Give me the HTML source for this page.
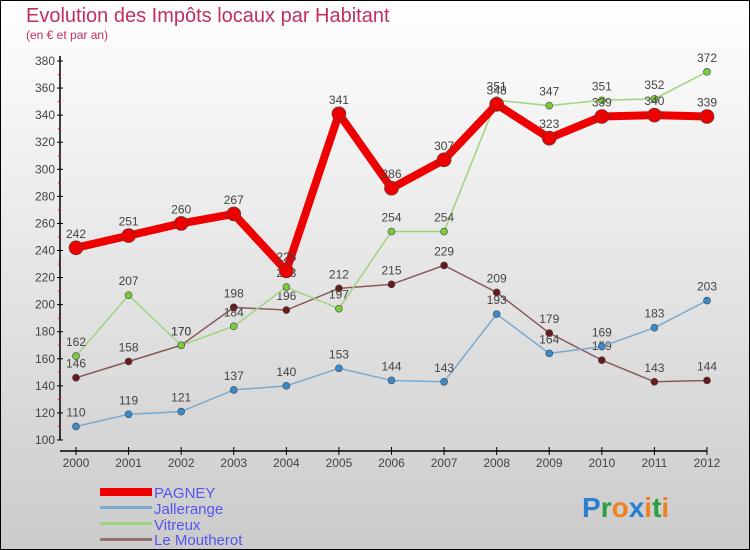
<!DOCTYPE html>
<html><head><meta charset="utf-8"><style>
body{margin:0}
#c{width:750px;height:550px;position:relative;overflow:hidden;font-family:"Liberation Sans",sans-serif}
</style></head><body>
<div id="c">
<svg id="s" width="750" height="550" xmlns="http://www.w3.org/2000/svg">
<defs><linearGradient id="bg" x1="0" y1="0" x2="0" y2="1"><stop offset="0" stop-color="#ffffff"/><stop offset="1" stop-color="#cbcbcb"/></linearGradient></defs>
<rect x="0.5" y="0.5" width="749" height="549" fill="url(#bg)" stroke="#000"/>
<text x="26" y="22" font-size="20" fill="#c0305a">Evolution des Impôts locaux par Habitant</text>
<text x="26" y="39" font-size="12" fill="#c0305a">(en € et par an)</text>
<g id="axes"></g><g id="series"></g>
<g>
<rect x="100" y="488" width="52" height="8" fill="#e00"/>
<text x="154" y="498" font-size="15" fill="#5555ee">PAGNEY</text>
<rect x="100" y="506" width="52" height="3" fill="#7aaad0"/>
<text x="154" y="514" font-size="15" fill="#5555ee">Jallerange</text>
<rect x="100" y="522" width="52" height="3" fill="#9fd47f"/>
<text x="154" y="530" font-size="15" fill="#5555ee">Vitreux</text>
<rect x="100" y="538" width="52" height="3" fill="#957070"/>
<text x="154" y="545" font-size="15" fill="#5555ee">Le Moutherot</text>
</g>
<g font-size="28" font-weight="bold">
<text x="582" y="517"><tspan fill="#2a7fd0">P</tspan><tspan fill="#2aa040">r</tspan><tspan fill="#f08020">o</tspan><tspan fill="#2a7fd0">x</tspan><tspan fill="#f08020">i</tspan><tspan fill="#2aa040">t</tspan><tspan fill="#f08020">i</tspan></text>
</g>
</svg>
</div>
<script>
const years=["2000","2001","2002","2003","2004","2005","2006","2007","2008","2009","2010","2011","2012"];
const yTicks=[100,120,140,160,180,200,220,240,260,280,300,320,340,360,380];
const pagney=[242,251,260,267,225,341,286,307,348,323,339,340,339];
const jallerange=[110,119,121,137,140,153,144,143,193,164,169,183,203];
const vitreux=[162,207,170,184,213,197,254,254,351,347,351,352,372];
const moutherot=[146,158,170,198,196,212,215,229,209,179,159,143,144];
const NS="http://www.w3.org/2000/svg";
const X=i=>76+i*(707-76)/12;
const Y=v=>440-(v-100)*(440-61)/280;
function mk(t,a,p){const e=document.createElementNS(NS,t);for(const k in a)e.setAttribute(k,a[k]);p.appendChild(e);return e;}
const ax=document.getElementById('axes');
const yl=mk('line',{x1:60,y1:56,x2:60,y2:440,stroke:'#000','stroke-width':1.5},ax);


const xl=mk('line',{x1:60,y1:451,x2:707,y2:451,stroke:'#000','stroke-width':1.5},ax);


yTicks.forEach((v,i)=>{
  mk('line',{x1:57,y1:Y(v),x2:63,y2:Y(v),stroke:'#000'},ax);
  if(i<yTicks.length-1)mk('line',{x1:58,y1:Y(v+10),x2:61,y2:Y(v+10),stroke:'#e00'},ax);
  const t=mk('text',{x:55,y:Y(v)+4,'text-anchor':'end','font-size':12,fill:'#444'},ax);
  t.textContent=v;
  
  
});
years.forEach((y,i)=>{
  mk('line',{x1:X(i),y1:447,x2:X(i),y2:455,stroke:'#000'},ax);
  const t=mk('text',{x:X(i),y:467,'text-anchor':'middle','font-size':12,fill:'#444'},ax);
  t.textContent=y;
  
  
});
const sg=document.getElementById('series');
function series(vals,name,color,w,r,fill){
  const g=mk('g',{},sg);
  
  
  const pl=mk('polyline',{points:vals.map((v,i)=>X(i)+','+Y(v)).join(' '),fill:'none',stroke:color,'stroke-width':w,'stroke-linejoin':'round'},g);
  
  
  vals.forEach((v,i)=>{
    const c=mk('circle',{cx:X(i),cy:Y(v),r:r,fill:fill,stroke:'#444','stroke-width':0.6},g);
    
    
    const t=mk('text',{x:X(i),y:Y(v)-10,'text-anchor':'middle','font-size':12,fill:'#444'},g);
    t.textContent=v;
    
    
  });
}
series(moutherot,'le-moutherot','#8a5a5a',1.5,3.5,'#6a1a1a');
series(vitreux,'vitreux','#9fd47f',1.5,3.5,'#7acc3a');
series(jallerange,'jallerange','#7aaad0',1.5,3.5,'#3a8acc');
series(pagney,'pagney','#ee0000',8,7,'#ee0000');
</script>
</body></html>
